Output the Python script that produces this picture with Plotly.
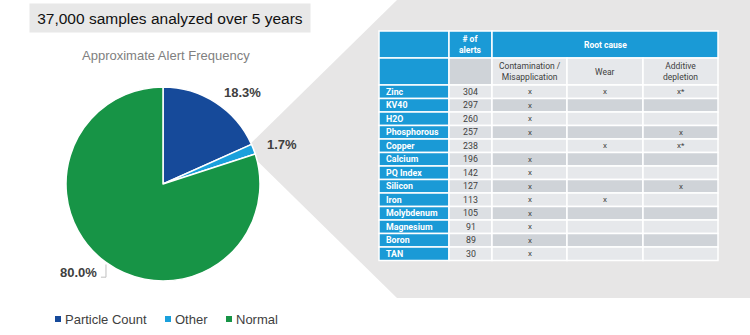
import math
import plotly.graph_objects as go

# ---- data ---------------------------------------------------------------
categories = ["Particle Count", "Other", "Normal"]
shares = [18.3, 1.7, 80.0]

metrics = ["Zinc", "KV40", "H2O", "Phosphorous", "Copper", "Calcium", "PQ Index",
           "Silicon", "Iron", "Molybdenum", "Magnesium", "Boron", "TAN"]
alerts = [304, 297, 260, 257, 238, 196, 142, 127, 113, 105, 91, 89, 30]
contamination = ["x", "x", "x", "x", "", "x", "x", "x", "x", "x", "x", "x", "x"]
wear = ["x", "", "", "", "x", "", "", "", "x", "", "", "", ""]
additive = ["x*", "", "", "x", "x*", "", "", "x", "", "", "", "", ""]

header_top = ["", "# of<br>alerts", "Root cause"]
header_sub = ["", "", "Contamination /<br>Misapplication", "Wear", "Additive<br>depletion"]

title_text = "37,000 samples analyzed over 5 years"
subtitle_text = "Approximate Alert Frequency"

# ---- styling ------------------------------------------------------------
W, H = 750, 335
slice_colors = ["#164a9a", "#1aa0dc", "#179446"]
BLUE = "#1a9ad6"
LIGHT = "#e6e8eb"
DARK = "#cfd3d8"
COL2_ODD = "#dcdfe3"
BG_GRAY = "#e7e6e6"
TEXT = "#404040"
TABLE_FONT = "Roboto"
MAIN_FONT = "Liberation Sans, Arial, sans-serif"

# pie geometry (pixels)
PCX, PCY, PR = 163, 184, 97

# table geometry (pixels)
col_edges = [379, 449, 492, 567, 643, 718]
top_rows = [31, 58, 85]
row_h = 13.5

# legend swatch positions (pixels)
legend_x = [58, 168, 229]
legend_y = 319

fig = go.Figure()

# pie
fig.add_trace(go.Pie(
    labels=categories, values=shares, sort=False, direction="clockwise",
    rotation=0, textinfo="none", hoverinfo="label+percent",
    marker=dict(colors=slice_colors, line=dict(color="white", width=1.5)),
    domain=dict(x=[(PCX - PR) / W, (PCX + PR) / W],
                y=[1 - (PCY + PR) / H, 1 - (PCY - PR) / H]),
    showlegend=False,
))

# invisible anchor trace so the pixel axes exist
fig.add_trace(go.Scatter(x=[None], y=[None], mode="markers", showlegend=False,
                         hoverinfo="skip"))

shapes = []
annotations = []

# grey callout band behind the table
shapes.append(dict(
    type="path", xref="x", yref="y", layer="below",
    path="M 245 149 L 397 0 L 750 0 L 750 298 L 397 298 Z",
    fillcolor=BG_GRAY, line=dict(width=0),
))

# pie labels placed just outside each slice at its mid-angle
total = sum(shares)
cum = 0.0
for val in shares:
    mid = (cum + val / 2) / total * 2 * math.pi
    cum += val
    s, c = math.sin(mid), math.cos(mid)
    lx = PCX + (PR + 12) * s
    ly = PCY - (PR + 12) * c
    annotations.append(dict(
        x=lx, y=ly, xref="x", yref="y", text=f"<b>{val:.1f}%</b>",
        showarrow=False, xanchor="left" if s >= 0 else "right", yanchor="middle",
        font=dict(family=MAIN_FONT, size=13, color=TEXT),
    ))
    if s < 0 and c < 0:
        ex = PCX + PR * s
        ey = PCY - PR * c
        shapes.append(dict(
            type="path", xref="x", yref="y",
            path=f"M {lx + 2} {ly + 5} L {ex} {ly + 5} L {ex} {ey + 2}",
            line=dict(color="#bfbfbf", width=1),
        ))

# legend: small square swatch followed by the category name
for name, col, lx in zip(categories, slice_colors, legend_x):
    shapes.append(dict(type="rect", xref="x", yref="y",
                       x0=lx - 3, x1=lx + 3, y0=legend_y - 3, y1=legend_y + 3,
                       fillcolor=col, line=dict(width=0)))
    annotations.append(dict(
        x=lx + 5, y=legend_y, xref="x", yref="y", text=name, showarrow=False,
        xanchor="left", yanchor="middle",
        font=dict(family=MAIN_FONT, size=13, color=TEXT),
    ))


def cell(x0, x1, y0, y1, fill):
    shapes.append(dict(type="rect", xref="x", yref="y", x0=x0, x1=x1, y0=y0, y1=y1,
                       fillcolor=fill, line=dict(color="white", width=1.5)))


def label(x, y, text, color, bold=False, anchor="center", size=8):
    annotations.append(dict(
        x=x, y=y, xref="x", yref="y", showarrow=False,
        text=f"<b>{text}</b>" if bold else text,
        xanchor=anchor, yanchor="middle",
        font=dict(family=TABLE_FONT, size=size, color=color),
    ))


def cx(i):
    return (col_edges[i] + col_edges[i + 1]) / 2


# header row 1: blank, "# of alerts", merged "Root cause"
y0, y1 = top_rows[0], top_rows[1]
cell(col_edges[0], col_edges[1], y0, y1, BLUE)
cell(col_edges[1], col_edges[2], y0, y1, BLUE)
cell(col_edges[2], col_edges[5], y0, y1, BLUE)
label(cx(1), (y0 + y1) / 2, header_top[1], "white", bold=True, size=8.5)
label((col_edges[2] + col_edges[5]) / 2, (y0 + y1) / 2, header_top[2], "white",
      bold=True, size=8.5)

# header row 2: root-cause categories
y0, y1 = top_rows[1], top_rows[2]
sub_fill = [BLUE, DARK, LIGHT, LIGHT, LIGHT]
for j, txt in enumerate(header_sub):
    cell(col_edges[j], col_edges[j + 1], y0, y1, sub_fill[j])
    if txt:
        label(cx(j), (y0 + y1) / 2, txt, TEXT, size=8.5)

# body rows
for i, name in enumerate(metrics):
    y0 = top_rows[2] + i * row_h
    y1 = y0 + row_h
    ym = (y0 + y1) / 2
    band = LIGHT if i % 2 == 0 else DARK
    cell(col_edges[0], col_edges[1], y0, y1, BLUE)
    cell(col_edges[1], col_edges[2], y0, y1, LIGHT if i % 2 == 0 else COL2_ODD)
    for j in (2, 3, 4):
        cell(col_edges[j], col_edges[j + 1], y0, y1, band)
    label(col_edges[0] + 5, ym, name, "white", bold=True, anchor="left", size=8.8)
    label(cx(1), ym, str(alerts[i]), TEXT, size=8.8)
    for j, col in zip((2, 3, 4), (contamination, wear, additive)):
        if col[i]:
            label(cx(j), ym, col[i], TEXT, size=8)

# title banner and subtitle
annotations.append(dict(
    x=170, y=18, xref="x", yref="y", text=title_text, showarrow=False,
    width=278, height=26, bgcolor="#e8e8e8", xanchor="center", yanchor="middle",
    font=dict(family=MAIN_FONT, size=15.5, color="#111111"),
))
annotations.append(dict(
    x=166, y=55, xref="x", yref="y", text=subtitle_text, showarrow=False,
    xanchor="center", yanchor="middle",
    font=dict(family=MAIN_FONT, size=13, color="#808080"),
))

fig.update_layout(
    width=W, height=H, margin=dict(l=0, r=0, t=0, b=0),
    paper_bgcolor="white", plot_bgcolor="rgba(0,0,0,0)",
    xaxis=dict(range=[0, W], domain=[0, 1], visible=False, fixedrange=True),
    yaxis=dict(range=[H, 0], domain=[0, 1], visible=False, fixedrange=True),
    shapes=shapes, annotations=annotations, showlegend=False,
)

fig.write_html("out.html")
